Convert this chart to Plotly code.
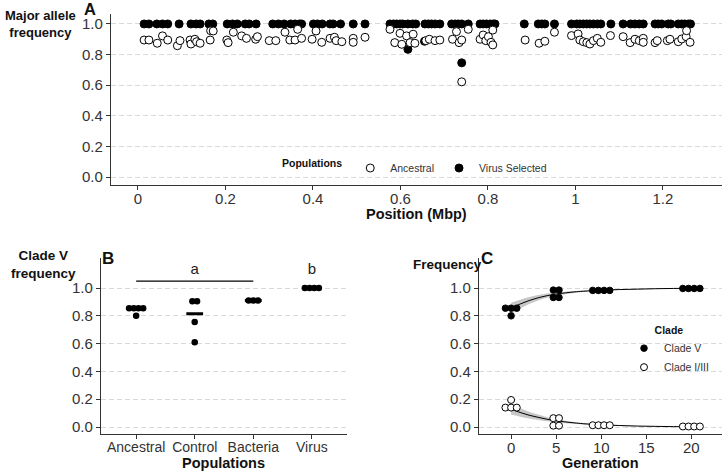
import plotly.graph_objects as go

# ---- Panel A: major allele frequency along the genome ----
virus_pos = [0.014, 0.025, 0.043, 0.056, 0.068, 0.094, 0.121, 0.133, 0.142, 0.162,
             0.171, 0.204, 0.216, 0.227, 0.245, 0.254, 0.270, 0.308, 0.321, 0.334,
             0.349, 0.359, 0.369, 0.374, 0.401, 0.410, 0.421, 0.439, 0.446, 0.463,
             0.492, 0.519, 0.576, 0.584, 0.591, 0.599, 0.605, 0.617, 0.628, 0.635,
             0.656, 0.664, 0.671, 0.679, 0.690, 0.717, 0.725, 0.732, 0.740, 0.755,
             0.782, 0.789, 0.797, 0.805, 0.812, 0.816, 0.883, 0.915, 0.923, 0.930,
             0.952, 0.991, 1.003, 1.010, 1.018, 1.026, 1.033, 1.041, 1.050, 1.058,
             1.081, 1.109, 1.126, 1.136, 1.146, 1.155, 1.182, 1.189, 1.197, 1.212,
             1.218, 1.235, 1.243, 1.250, 1.258, 1.263,
             0.617, 0.740, 0.655]
virus_freq = [1.0] * 86 + [0.834, 0.746, 0.887]

anc_pos = [0.014, 0.025, 0.044, 0.056, 0.068, 0.090, 0.096, 0.119, 0.121, 0.130,
           0.134, 0.142, 0.165, 0.166, 0.172, 0.203, 0.206, 0.218, 0.237, 0.248,
           0.269, 0.273, 0.300, 0.315, 0.336, 0.347, 0.359, 0.365, 0.374, 0.398,
           0.407, 0.420, 0.439, 0.449, 0.453, 0.466, 0.492, 0.492, 0.519, 0.576,
           0.587, 0.599, 0.603, 0.614, 0.622, 0.629, 0.633, 0.658, 0.666, 0.679,
           0.690, 0.719, 0.728, 0.734, 0.740, 0.755, 0.782, 0.789, 0.795, 0.801,
           0.807, 0.811, 0.811, 0.885, 0.917, 0.930, 0.952, 0.991, 1.006, 1.010,
           1.018, 1.026, 1.033, 1.041, 1.050, 1.058, 1.080, 1.109, 1.125, 1.136,
           1.146, 1.155, 1.155, 1.182, 1.187, 1.210, 1.216, 1.235, 1.243, 1.253,
           1.254, 1.262, 0.740]
anc_freq = [0.895, 0.895, 0.874, 0.922, 0.895, 0.858, 0.891, 0.895, 0.869, 0.900,
            0.884, 0.874, 0.895, 0.956, 0.954, 0.895, 0.878, 0.946, 0.922, 0.906,
            0.900, 0.917, 0.891, 0.891, 0.946, 0.895, 0.895, 0.965, 0.906, 0.900,
            0.954, 0.880, 0.906, 0.913, 0.891, 0.884, 0.906, 0.880, 0.913, 0.965,
            0.878, 0.939, 0.867, 0.922, 0.878, 0.933, 0.874, 0.891, 0.900, 0.891,
            0.895, 0.900, 0.950, 0.878, 0.895, 0.965, 0.900, 0.928, 0.891, 0.917,
            0.880, 0.863, 0.960, 0.895, 0.874, 0.887, 0.946, 0.924, 0.935, 0.895,
            0.884, 0.878, 0.869, 0.891, 0.906, 0.880, 0.924, 0.917, 0.878, 0.900,
            0.891, 0.906, 0.880, 0.878, 0.891, 0.891, 0.900, 0.884, 0.902, 0.917,
            0.956, 0.880, 0.622]

pos_ticks = [0, 0.2, 0.4, 0.6, 0.8, 1, 1.2]
pos_labels = ["0", "0.2", "0.4", "0.6", "0.8", "1", "1.2"]
freq_ticks = [0.0, 0.2, 0.4, 0.6, 0.8, 1.0]
freq_labels = ["0.0", "0.2", "0.4", "0.6", "0.8", "1.0"]

# ---- Panel B: clade V frequency by population ----
pop_names = ["Ancestral", "Control", "Bacteria", "Virus"]
ancestral_vals = [0.855, 0.855, 0.855, 0.855, 0.80]
control_vals = [0.905, 0.905, 0.755, 0.61]
bacteria_vals = [0.91, 0.91, 0.91]
virus_vals = [1.0, 1.0, 1.0, 1.0]
pop_summary = [0.855, 0.815, 0.91, 1.0]
letter_text = ["a", "b"]
letter_first = [0, 3]
letter_last = [2, 3]
letter_line_y = 1.05
letter_text_y = 1.125

# ---- Panel C: clade frequency over generations ----
gen_obs = [0, 0, 0, 0, 5, 5, 5, 5, 10, 10, 10, 10, 20, 20, 20, 20]
clade_v_obs = [0.855, 0.855, 0.855, 0.80, 0.985, 0.985, 0.932, 0.932,
               0.983, 0.983, 0.983, 0.983, 0.997, 0.997, 0.997, 0.997]
clade_i_obs = [0.14, 0.14, 0.14, 0.195, 0.064, 0.064, 0.01, 0.01,
               0.013, 0.013, 0.013, 0.013, 0.004, 0.004, 0.004, 0.004]
fit_gen = [0, 1, 2, 3, 4, 5, 6, 7, 8, 10, 12, 14, 16, 18, 20]
fit_v = [0.855, 0.885, 0.91, 0.93, 0.945, 0.957, 0.965, 0.972, 0.977, 0.984,
         0.989, 0.992, 0.995, 0.997, 0.998]
fit_v_lo = [0.81, 0.852, 0.885, 0.91, 0.93, 0.945, 0.956, 0.965, 0.971, 0.98,
            0.986, 0.99, 0.993, 0.996, 0.997]
fit_v_hi = [0.895, 0.915, 0.935, 0.95, 0.96, 0.968, 0.974, 0.979, 0.983, 0.988,
            0.992, 0.994, 0.997, 0.998, 0.999]
fit_i = [0.128, 0.105, 0.085, 0.07, 0.056, 0.045, 0.037, 0.030, 0.024, 0.016,
         0.011, 0.007, 0.005, 0.003, 0.002]
fit_i_lo = [0.09, 0.074, 0.061, 0.051, 0.042, 0.034, 0.028, 0.023, 0.018, 0.012,
            0.008, 0.005, 0.003, 0.002, 0.001]
fit_i_hi = [0.168, 0.137, 0.11, 0.09, 0.071, 0.057, 0.046, 0.037, 0.03, 0.02,
            0.014, 0.009, 0.007, 0.004, 0.003]
gen_ticks = [0, 5, 10, 15, 20]

_FONT = "Liberation Sans, Arial, sans-serif"
_TEXT = "#333333"
_LINE = "#333333"
_GRID = "#d9d9d9"


def stack_offsets(keys, step):
    """Centre identical values side by side, like a dot plot."""
    out = []
    for i, k in enumerate(keys):
        same = [j for j, other in enumerate(keys) if other == k]
        out.append((same.index(i) - (len(same) - 1) / 2) * step)
    return out


def axis_style(size=15, **extra):
    base = {
        "showline": True, "linecolor": _LINE, "linewidth": 1.3,
        "ticks": "outside", "ticklen": 4, "tickcolor": _LINE, "tickwidth": 1.2,
        "tickfont": {"size": size, "color": _TEXT}, "zeroline": False,
        "showgrid": False,
    }
    base.update(extra)
    return base


def y_style(rng, domain):
    return axis_style(range=rng, domain=domain, tickvals=freq_ticks, ticktext=freq_labels,
                      showgrid=True, gridcolor=_GRID, griddash="5px,3px", gridwidth=1)


fig = go.Figure()

# Panel A
fig.add_trace(go.Scatter(
    x=virus_pos, y=virus_freq, mode="markers", name="Virus Selected",
    marker={"size": 8, "color": "black", "line": {"color": "black", "width": 1}},
    legendrank=2, xaxis="x", yaxis="y"))
fig.add_trace(go.Scatter(
    x=anc_pos, y=anc_freq, mode="markers", name="Ancestral",
    marker={"size": 8, "color": "white", "line": {"color": "black", "width": 1}},
    legendrank=1, xaxis="x", yaxis="y"))

# Panel B
fig.add_trace(go.Scatter(
    x=list(range(len(pop_names))), y=pop_summary, mode="markers", showlegend=False,
    marker={"symbol": "line-ew", "size": 12, "line": {"color": "black", "width": 3}},
    xaxis="x2", yaxis="y2"))
for idx, vals in enumerate([ancestral_vals, control_vals, bacteria_vals, virus_vals]):
    offs = stack_offsets(vals, 0.08)
    fig.add_trace(go.Scatter(
        x=[idx + o for o in offs], y=vals, mode="markers", showlegend=False,
        marker={"size": 6.5, "color": "black"}, xaxis="x2", yaxis="y2"))
for txt, a, b in zip(letter_text, letter_first, letter_last):
    if b > a:
        fig.add_trace(go.Scatter(
            x=[a, b], y=[letter_line_y, letter_line_y], mode="lines", showlegend=False,
            line={"color": "black", "width": 1.2}, xaxis="x2", yaxis="y2"))
    fig.add_trace(go.Scatter(
        x=[(a + b) / 2], y=[letter_text_y], mode="text", text=[txt], showlegend=False,
        textfont={"size": 15, "color": "#222222", "family": _FONT},
        xaxis="x2", yaxis="y2"))

# Panel C
for fit, lo, hi in [(fit_v, fit_v_lo, fit_v_hi), (fit_i, fit_i_lo, fit_i_hi)]:
    fig.add_trace(go.Scatter(
        x=fit_gen + fit_gen[::-1], y=hi + lo[::-1], fill="toself", mode="lines",
        line={"width": 0, "shape": "spline"}, fillcolor="rgba(0,0,0,0.22)",
        showlegend=False, hoverinfo="skip", xaxis="x3", yaxis="y3"))
    fig.add_trace(go.Scatter(
        x=fit_gen, y=fit, mode="lines", showlegend=False,
        line={"color": "black", "width": 1, "shape": "spline"},
        xaxis="x3", yaxis="y3"))

v_offs = stack_offsets(list(zip(gen_obs, clade_v_obs)), 0.63)
fig.add_trace(go.Scatter(
    x=[g + o for g, o in zip(gen_obs, v_offs)], y=clade_v_obs, mode="markers",
    name="Clade V", legend="legend2",
    marker={"size": 6.5, "color": "black", "line": {"color": "black", "width": 1}},
    xaxis="x3", yaxis="y3"))
i_offs = stack_offsets(list(zip(gen_obs, clade_i_obs)), 0.63)
fig.add_trace(go.Scatter(
    x=[g + o for g, o in zip(gen_obs, i_offs)], y=clade_i_obs, mode="markers",
    name="Clade I/III", legend="legend2",
    marker={"size": 7, "color": "white", "line": {"color": "black", "width": 1}},
    xaxis="x3", yaxis="y3"))

W, H = 722, 471


def px(x):
    return x / W


def py(y):
    return 1 - y / H


annotations = []
for text, x, y, size in [
    ("<b>A</b>", 90, 9, 16.5),
    ("<b>Major allele<br>frequency</b>", 40, 24, 13),
    ("<b>Position (Mbp)</b>", 416, 214, 14.5),
    ("<b>B</b>", 108, 258, 17),
    ("<b>Clade V<br>frequency</b>", 43, 264, 13.5),
    ("<b>Populations</b>", 224, 463, 14.5),
    ("<b>C</b>", 487, 258, 17),
    ("<b>Frequency</b>", 447, 264, 13.5),
    ("<b>Generation</b>", 600, 463, 14.5),
]:
    annotations.append({
        "text": text, "x": px(x), "y": py(y), "xref": "paper", "yref": "paper",
        "xanchor": "center", "yanchor": "middle", "showarrow": False,
        "font": {"size": size, "color": "#111111", "family": _FONT},
    })

fig.update_layout(
    width=W, height=H,
    margin={"l": 0, "r": 0, "t": 0, "b": 0},
    paper_bgcolor="white", plot_bgcolor="white",
    font={"family": _FONT, "color": _TEXT},
    xaxis=axis_style(domain=[px(111), 1.0], range=[-0.0617, 1.335],
                     tickvals=pos_ticks, ticktext=pos_labels, anchor="y",
                     ticklabelstandoff=-4),
    yaxis=y_style([-0.052, 1.065], [py(185), py(14)]) | {"anchor": "x"},
    xaxis2=axis_style(size=14, domain=[px(101), px(347)], range=[-0.6, 3.6],
                      tickvals=list(range(len(pop_names))), ticktext=pop_names,
                      anchor="y2", ticklabelstandoff=-4),
    yaxis2=y_style([-0.05, 1.216], [py(434), py(258)]) | {"anchor": "x2"},
    xaxis3=axis_style(domain=[px(479), 1.0], range=[-3.56, 23.4],
                      tickvals=gen_ticks, anchor="y3", ticklabelstandoff=-4),
    yaxis3=y_style([-0.05, 1.216], [py(434), py(258)]) | {"anchor": "x3"},
    legend={
        "orientation": "h", "x": px(416), "y": py(168), "xanchor": "center",
        "yanchor": "middle", "bgcolor": "rgba(0,0,0,0)",
        "title": {"text": "<b>Populations</b>", "side": "left",
                  "font": {"size": 10.5, "color": "#111111"}},
        "font": {"size": 10.5, "color": _TEXT},
    },
    legend2={
        "x": px(624), "y": py(320), "xanchor": "left", "yanchor": "top",
        "bgcolor": "rgba(0,0,0,0)",
        "title": {"text": "<b>Clade</b>", "side": "top center",
                  "font": {"size": 10.5, "color": "#111111"}},
        "font": {"size": 10.5, "color": _TEXT},
    },
    annotations=annotations,
)

# the page has a default 8px body margin; drop it so the figure fills the window
fig.write_html("out.html", config={"displayModeBar": False},
               post_script="document.body.style.margin='0px';")
